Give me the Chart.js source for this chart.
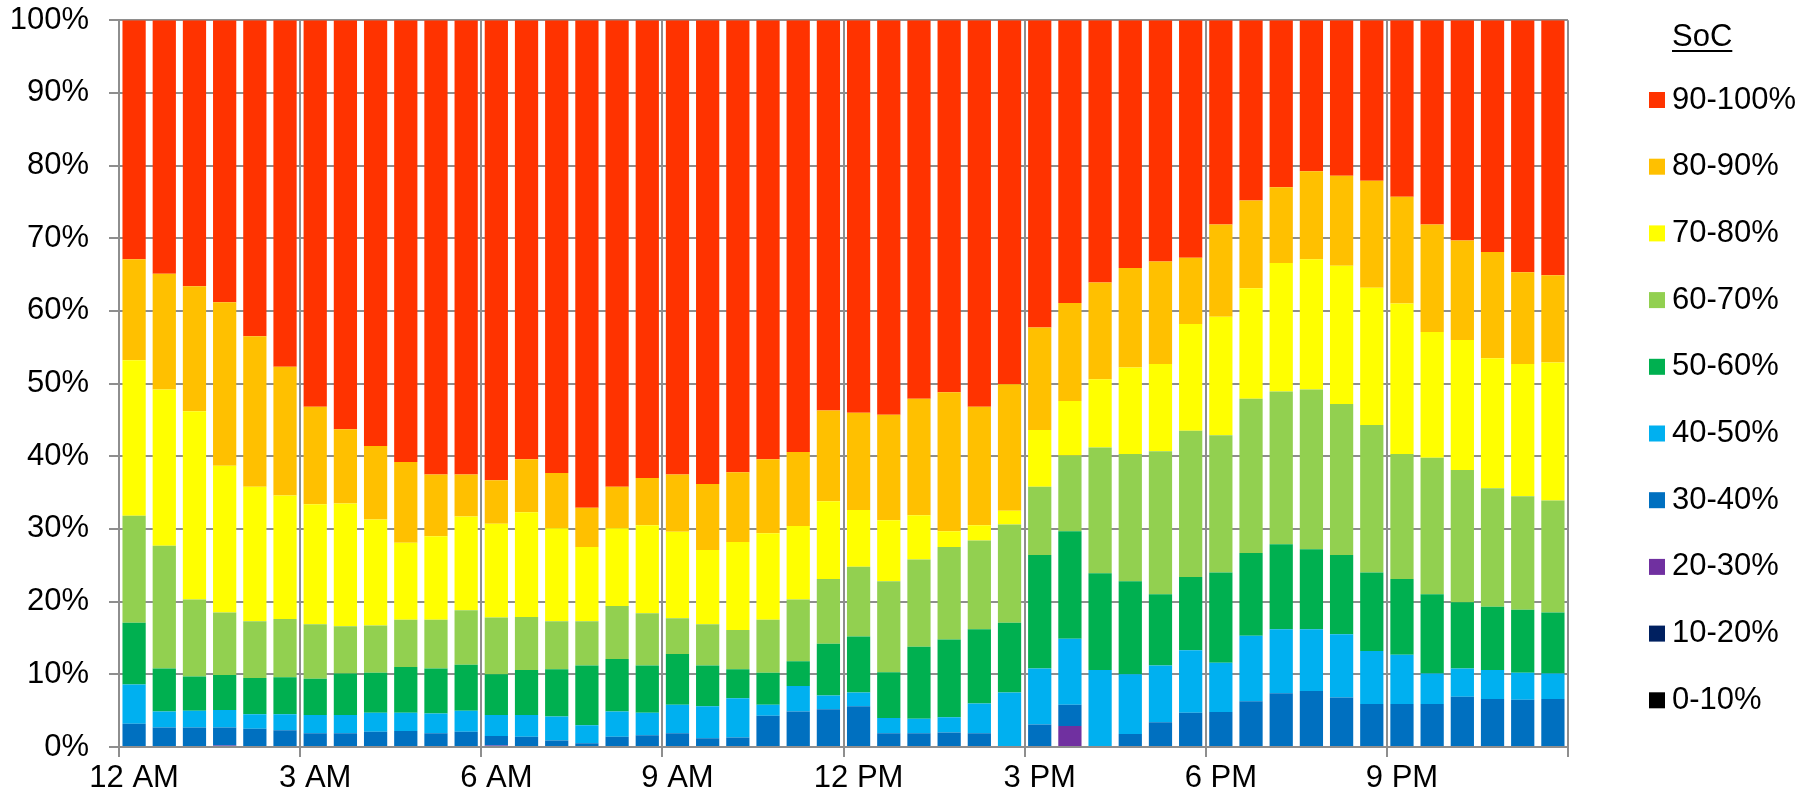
<!DOCTYPE html>
<html>
<head>
<meta charset="utf-8">
<script src="https://cdn.jsdelivr.net/npm/chart.js@4.4.1/dist/chart.umd.min.js"></script>
<style>
  html, body { margin: 0; padding: 0; background: #fff; }
  #wrap { width: 1815px; height: 799px; }
</style>
</head>
<body>
<div id="wrap"><canvas id="chart"></canvas></div>
<script>
// ─── half-hour slots ───
const times = [
  "12 AM", "12:30 AM", "1 AM", "1:30 AM", "2 AM", "2:30 AM",
  "3 AM", "3:30 AM", "4 AM", "4:30 AM", "5 AM", "5:30 AM",
  "6 AM", "6:30 AM", "7 AM", "7:30 AM", "8 AM", "8:30 AM",
  "9 AM", "9:30 AM", "10 AM", "10:30 AM", "11 AM", "11:30 AM",
  "12 PM", "12:30 PM", "1 PM", "1:30 PM", "2 PM", "2:30 PM",
  "3 PM", "3:30 PM", "4 PM", "4:30 PM", "5 PM", "5:30 PM",
  "6 PM", "6:30 PM", "7 PM", "7:30 PM", "8 PM", "8:30 PM",
  "9 PM", "9:30 PM", "10 PM", "10:30 PM", "11 PM", "11:30 PM"
];
const yTicks = [0, 10, 20, 30, 40, 50, 60, 70, 80, 90, 100];

// ─── share of vehicles per SoC band (%) ───
const soc0_10 = [0,0,0,0,0,0, 0,0,0,0,0,0, 0,0,0,0,0,0, 0,0,0,0,0,0, 0,0,0,0,0,0, 0,0,0,0,0,0, 0,0,0,0,0,0, 0,0,0,0,0,0];
const soc10_20 = [0,0,0,0,0,0, 0,0,0,0,0,0, 0,0,0,0,0,0, 0,0,0,0,0,0, 0,0,0,0,0,0, 0,0,0,0,0,0, 0,0,0,0,0,0, 0,0,0,0,0,0];
const soc20_30 = [0,0,0,0.2,0,0, 0,0,0,0,0,0, 0.2,0,0,0,0,0, 0,0,0,0,0,0, 0,0,0,0,0,0, 0,2.9,0,0,0,0, 0,0,0,0,0,0, 0,0,0,0,0,0];
const soc30_40 = [3.2,2.7,2.7,2.5,2.5,2.3, 1.9,1.9,2.1,2.2,1.9,2.1, 1.3,1.4,0.9,0.5,1.4,1.6, 1.9,1.2,1.3,4.3,4.9,5.2, 5.6,1.9,1.9,2.0,1.9,0, 3.1,2.9,0,1.8,3.4,4.7, 4.8,6.3,7.4,7.7,6.8,5.9, 5.9,5.9,6.9,6.6,6.5,6.6];
const soc40_50 = [5.4,2.2,2.3,2.4,2.0,2.2, 2.5,2.5,2.6,2.5,2.7,2.9, 2.9,3.0,3.3,2.5,3.5,3.1, 3.9,4.4,5.4,1.5,3.5,1.9, 1.9,2.1,2.0,2.1,4.1,7.5, 7.7,9.1,10.6,8.2,7.8,8.6, 6.8,9.0,8.8,8.5,8.7,7.3, 6.8,4.2,3.9,4.0,3.7,3.5];
const soc50_60 = [8.5,5.9,4.7,4.8,5.0,5.1, 5.0,5.7,5.5,6.3,6.2,6.3, 5.6,6.2,6.5,8.2,7.2,6.5, 7.0,5.6,4.0,4.4,3.4,7.1, 7.7,6.3,9.9,10.7,10.2,9.6, 15.6,14.8,13.3,12.8,9.8,10.1, 12.4,11.4,11.7,11.0,10.9,10.8, 10.4,10.9,9.1,8.7,8.7,8.4];
const soc60_70 = [14.7,16.9,10.6,8.6,7.8,8.0, 7.5,6.5,6.5,6.5,6.7,7.5, 7.8,7.3,6.6,6.1,7.3,7.2, 4.9,5.7,5.4,7.3,8.5,8.9, 9.6,12.5,12.0,12.7,12.2,13.5, 9.4,10.4,17.3,17.5,19.7,20.1, 18.9,21.2,21.0,22.0,20.8,20.3, 17.2,18.8,18.2,16.3,15.6,15.4];
const soc70_80 = [21.4,21.5,25.9,20.2,18.5,17.0, 16.5,16.9,14.6,10.6,11.5,12.9, 12.9,14.4,12.8,10.2,10.7,12.1, 11.9,10.2,12.1,11.9,10.1,10.7, 7.8,8.4,6.1,2.2,2.1,1.9, 7.8,7.5,9.4,11.9,12.0,14.7, 16.3,15.2,17.7,17.9,19.0,18.9, 20.7,17.3,17.9,17.9,18.2,19.0];
const soc80_90 = [13.9,15.9,17.2,22.5,20.7,17.7, 13.4,10.2,10.1,11.1,8.5,5.8, 6.0,7.3,7.6,5.4,5.7,6.5, 7.9,9.1,9.6,10.2,10.2,12.5, 13.4,14.5,16.0,19.1,16.3,17.4, 14.1,13.5,13.3,13.7,14.1,9.1, 12.7,12.1,10.4,12.1,12.4,14.7, 14.7,14.8,13.7,14.6,12.6,12.0];
const soc90_100 = [32.9,34.9,36.6,38.8,43.5,47.7, 53.2,56.3,58.6,60.8,62.5,62.5, 63.3,60.4,62.3,67.1,64.2,63.0, 62.5,63.8,62.2,60.4,59.4,53.7, 54.0,54.3,52.1,51.2,53.2,50.1, 42.3,38.9,36.1,34.1,33.2,32.7, 28.1,24.8,23.0,20.8,21.4,22.1, 24.3,28.1,30.3,31.9,34.7,35.1];

const bandNames = ["0-10%", "10-20%", "20-30%", "30-40%", "40-50%", "50-60%", "60-70%", "70-80%", "80-90%", "90-100%"];
const bandColors = ["#000000", "#002060", "#7030A0", "#0070C0", "#00B0F0", "#00B050", "#92D050", "#FFFF00", "#FFC000", "#FF3300"];
const bandValues = [soc0_10, soc10_20, soc20_30, soc30_40, soc40_50, soc50_60, soc60_70, soc70_80, soc80_90, soc90_100];

const FONT = "'Liberation Sans', Arial, sans-serif";
const GRID = "#8e8e8e";

// ─── legend on the right, top band first ───
const socLegend = {
  id: "socLegend",
  afterDraw(chart) {
    const ctx = chart.ctx;
    const x0 = 1649, textX = 1672;
    ctx.save();
    ctx.font = "31px " + FONT;
    ctx.fillStyle = "#000";
    ctx.textBaseline = "middle";
    ctx.textAlign = "left";
    ctx.fillText("SoC", textX, 37);
    const w = ctx.measureText("SoC").width;
    ctx.fillRect(textX, 50, w, 2);
    const ds = chart.data.datasets.slice().reverse();
    ds.forEach((d, i) => {
      const y = 100 + i * 66.7;
      ctx.fillStyle = d.backgroundColor;
      ctx.fillRect(x0, y - 8, 16, 16);
      ctx.fillStyle = "#000";
      ctx.fillText(d.label, textX, y);
    });
    ctx.restore();
  }
};

const every3h = (c) => (c.index === undefined || c.index % 6 === 0) ? GRID : "rgba(0,0,0,0)";

new Chart(document.getElementById("chart"), {
  type: "bar",
  data: {
    labels: times,
    datasets: bandValues.map((v, i) => ({
      label: bandNames[i],
      data: v,
      backgroundColor: bandColors[i],
      borderWidth: 0,
      categoryPercentage: 1,
      barPercentage: 0.77
    }))
  },
  options: {
    responsive: true,
    maintainAspectRatio: false,
    animation: false,
    layout: { padding: { top: 0, right: 247, bottom: 0, left: 0 } },
    plugins: { legend: { display: false }, tooltip: { enabled: false } },
    scales: {
      x: {
        stacked: true,
        grid: {
          offset: true,
          color: every3h,
          tickColor: every3h,
          lineWidth: 2,
          borderDash: [2, 2],
          tickLength: 10
        },
        border: { color: GRID, width: 2 },
        ticks: {
          autoSkip: false,
          maxRotation: 0,
          padding: 6,
          color: "#000",
          font: { family: FONT, size: 31, lineHeight: 1 },
          callback: (v, i) => i % 6 === 0 ? times[i] : ""
        },
        afterFit: (s) => { s.height = 52; }
      },
      y: {
        stacked: true,
        min: 0,
        max: 100,
        afterBuildTicks: (s) => { s.ticks = yTicks.map(v => ({ value: v })); },
        grid: { color: GRID, lineWidth: 2, tickLength: 10 },
        border: { color: GRID, width: 2 },
        ticks: {
          padding: 20,
          autoSkip: false,
          color: "#000",
          // tiny line height keeps the plot top at 100% = y 20
          font: { family: FONT, size: 31, lineHeight: 0.01 },
          callback: (v) => v + "%"
        },
        afterFit: (s) => { s.width = 119; }
      }
    }
  },
  plugins: [socLegend]
});
</script>
</body>
</html>
